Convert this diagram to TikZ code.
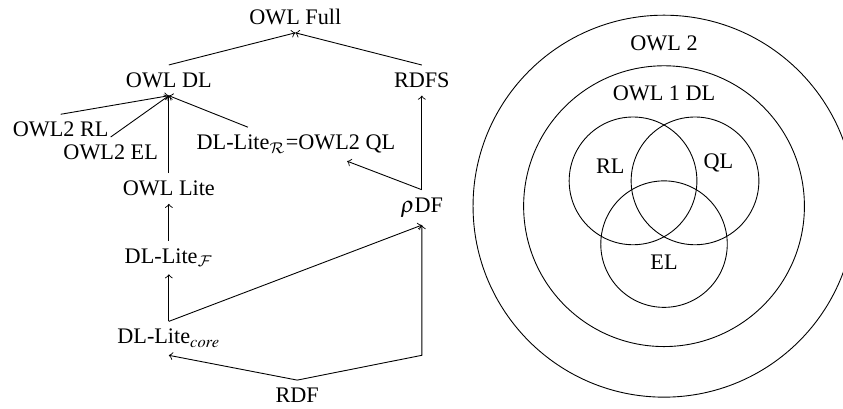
\documentclass[tikz,border=0pt]{standalone}
\usepackage{mathptmx}
\DeclareMathAlphabet{\mathcal}{OMS}{cmsy}{m}{n}
\usepackage{fontspec}
\setmainfont{Liberation Serif}
\usetikzlibrary{calc}

\begin{document}
\begin{tikzpicture}[>=to, set/.style={draw}]
    \useasboundingbox (-2.67,-5.19) rectangle (10.66,1.27);

    \node (Full) at (2,1) {OWL Full};
    \node (DL) at (0,0) {OWL DL};
    \node (RDFS) at (4,0) {RDFS};
    \node (RL) at (-1.71,-0.78) {OWL2 RL};
    \node (EL) at (-0.92,-1.14) {OWL2 EL};
    \node (QL) at (2.01,-1.01) {DL-Lite$_\mathcal{R}$=OWL2 QL};
    \node (Lite) at (0,-1.71) {OWL Lite};
    \node (Rho) at (4,-2.01) {$\rho$DF};
    \node (F) at (0,-2.8) {DL-Lite$_\mathcal{F}$};
    \node (Core) at (0,-4.08) {DL-Lite$_{core}$};
    \node (RDF) at (2.03,-4.98) {RDF};

    \draw[->] (DL.north) -- (Full.south);
    \draw[->] (RDFS.north) -- (Full.south);
    \draw[->] (RL.north) -- (DL.south);
    \draw[->] (EL.north) -- (DL.south);
    \draw[->] (Lite.north) -- (DL.south);
    \draw[->] ([xshift=-0.76cm]QL.north) -- (DL.south);
    \draw[->] (Rho.north) -- (RDFS.south);
    \draw[->] (Rho.north) -- ([xshift=0.81cm]QL.south);
    \draw[->] (F.north) -- (Lite.south);
    \draw[->] (Core.north) -- (F.south);
    \draw[->] (Core.north) -- (Rho.south);
    \draw[->] (RDF.north) -- (Core.south);
    \draw[->] (RDF.north) -- (Rho.south |- Core.south) -- (Rho.south);

    \coordinate (O) at (7.83,-1.99);
    \coordinate (cRL) at ($(O)+(-0.49,0.4)$);
    \coordinate (cQL) at ($(O)+(0.49,0.4)$);
    \coordinate (cEL) at ($(O)+(0,-0.6)$);
    \draw[set] (O) circle (3.02);
    \draw[set] (O) circle (2.22);
    \draw[set] (cRL) circle (1.01);
    \draw[set] (cQL) circle (1.01);
    \draw[set] (cEL) circle (1.0);

    \node (Owl2) at ($(O)+(0,2.57)$) {OWL 2};
    \node (Owl1) at ($(O)+(0,1.78)$) {OWL 1 DL};
    \node (sRL) at ($(O)+(-0.85,0.63)$) {RL};
    \node (sQL) at ($(O)+(0.86,0.68)$) {QL};
    \node (sEL) at ($(O)+(0,-0.89)$) {EL};
\end{tikzpicture}
\end{document}
